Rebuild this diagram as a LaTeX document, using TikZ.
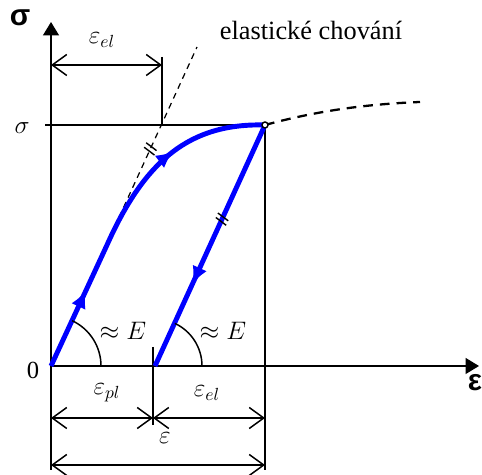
\documentclass[tikz,border=0pt]{standalone}
\usepackage{fontspec}
\setmainfont{Liberation Serif}
\newfontfamily\axisfont{Liberation Sans}
\usepackage{xcolor}
\usetikzlibrary{arrows.meta,positioning,calc,decorations.markings}
\definecolor{ink}{HTML}{000000}
\definecolor{loadblue}{HTML}{0000FF}
\tikzset{
  axis/.style={line width=0.9pt, draw=ink, -{Triangle[length=2.7mm,width=3.2mm]}},
  guide/.style={line width=0.85pt, draw=ink},
  dim/.style={line width=0.85pt, draw=ink,
              {Straight Barb[length=2.9mm,width=4.2mm]}-{Straight Barb[length=2.9mm,width=4.2mm]}},
  elastic/.style={draw=ink, line width=0.7pt, dash pattern=on 3.4pt off 2.8pt},
  plastic/.style={draw=ink, line width=1.3pt, dash pattern=on 5.5pt off 4pt},
  loadline/.style={draw=loadblue, line width=2.8pt},
  flowmark/.style={postaction={decorate, decoration={markings,
      mark=at position #1 with {\arrow[loadblue]{Latex[length=3.5mm,width=3.1mm]}}}}},
  slashes/.style={postaction={decorate, decoration={markings,
      mark=at position #1 with {\draw[ink, line width=0.8pt, solid]
        (-0.5pt,3.6pt) -- (-2.1pt,-3.6pt) (2.3pt,3.6pt) -- (0.7pt,-3.6pt);}}}},
  lbl/.style={font=\fontsize{14}{16}\selectfont, text=ink, inner sep=1pt},
  axlbl/.style={font=\axisfont\bfseries\fontsize{17}{18}\selectfont, text=ink, inner sep=0pt}
}

\begin{document}
\begin{tikzpicture}[x=0.02cm, y=0.02cm]
  \useasboundingbox (0,0) rectangle (482,475);
  % key points of the diagram
  \coordinate (O) at (51,109);
  \coordinate (P) at (265,350);
  \coordinate (U) at (155,109);
  \coordinate (B) at (107,230);
  \coordinate (Etop) at (197,428);
  \coordinate (Eend) at (420,373);
  \coordinate (ytip) at (51,453);
  \coordinate (xtip) at (479,109);
  \coordinate (sl) at (45,350);
  \coordinate (elx) at (162,350);
  \coordinate (elt) at (162,418);
  \coordinate (elL) at (51,410);
  \coordinate (elR) at (162,410);
  \coordinate (tk) at (153,128);
  \coordinate (tkb) at (153,50);
  \coordinate (Ob) at (51,5);
  \coordinate (Pb) at (265,5);
  \coordinate (plL) at (51,57);
  \coordinate (plM) at (153,57);
  \coordinate (plR) at (265,57);
  \coordinate (tL) at (51,10);
  \coordinate (tR) at (265,10);

  % axes and guides
  \draw[axis] (Ob) -- (ytip);
  \draw[axis] (O) -- (xtip);
  \draw[guide] (sl) -- (P);
  \draw[guide] (P) -- (Pb);
  \draw[guide] (elt) -- (elx);
  \draw[guide] (tk) -- (tkb);

  % elastic response and beyond the peak
  \draw[elastic, slashes=0.68] (O) -- (Etop);
  \draw[plastic] (P) .. controls (320,365) and (370,371) .. (Eend);

  % loading and unloading
  \draw[loadline, flowmark=0.24, flowmark=0.72]
    (O) -- (B) .. controls (145,315) and (190,352) .. (P);
  \draw[loadline, flowmark=0.66, slashes=0.39] (P) -- (U);
  \draw[ink, line width=0.8pt, fill=white] (P) circle (3);

  % slope arcs
  \draw[guide] ($(O)+(50,0)$) arc[start angle=0, end angle=65, radius=50];
  \draw[guide] ($(U)+(47,0)$) arc[start angle=0, end angle=65, radius=47];

  % dimension lines
  \draw[dim] (elL) -- (elR);
  \draw[dim] (plL) -- (plM);
  \draw[dim] (plM) -- (plR);
  \draw[dim] (tL) -- (tR);

  % labels
  \node[axlbl] (sigax) at (20,457) {σ};
  \node[axlbl] (epsax) at (475,92) {ε};
  \node[lbl] (sig) at (22,347) {$\sigma$};
  \node[lbl] (zero) at (33,105) {0};
  \node[lbl] (eltop) at (102,435) {$\varepsilon_{el}$};
  \node[lbl, font=\fontsize{15}{17}\selectfont] (behav) at (311,445) {elastické chování};
  \node[lbl] (slope1) at (123,144) {$\approx E$};
  \node[lbl] (slope2) at (223,144) {$\approx E$};
  \node[lbl] (plbot) at (107,82) {$\varepsilon_{pl}$};
  \node[lbl] (elbot) at (207,82) {$\varepsilon_{el}$};
  \node[lbl] (eps) at (165,37) {$\varepsilon$};
\end{tikzpicture}
\end{document}
